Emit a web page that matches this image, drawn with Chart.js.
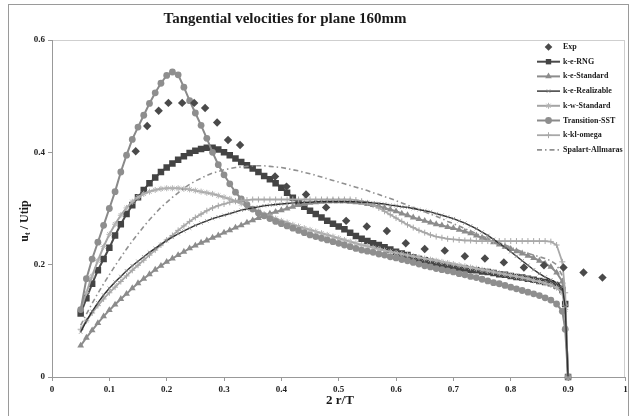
<!DOCTYPE html>
<html>
<head>
<meta charset="utf-8">
<script src="https://cdn.jsdelivr.net/npm/chart.js@4.4.0/dist/chart.umd.min.js"></script>
<style>
  html, body { margin: 0; padding: 0; background: #fff; }
  #wrap { width: 630px; height: 416px; }
</style>
</head>
<body>
<div id="wrap"><canvas id="chart" width="630" height="416"></canvas></div>
<script>
// radial positions 2r/T shared by all CFD profiles
const rPos = [
  0.05,0.06,0.07,0.08,0.09,0.10,0.11,0.12,0.13,0.14,
  0.15,0.16,0.17,0.18,0.19,0.20,0.21,0.22,0.23,0.24,
  0.25,0.26,0.27,0.28,0.29,0.30,0.31,0.32,0.33,0.34,
  0.35,0.36,0.37,0.38,0.39,0.40,0.41,0.42,0.43,0.44,
  0.45,0.46,0.47,0.48,0.49,0.50,0.51,0.52,0.53,0.54,
  0.55,0.56,0.57,0.58,0.59,0.60,0.61,0.62,0.63,0.64,
  0.65,0.66,0.67,0.68,0.69,0.70,0.71,0.72,0.73,0.74,
  0.75,0.76,0.77,0.78,0.79,0.80,0.81,0.82,0.83,0.84,
  0.85,0.86,0.87,0.88,0.89,0.895,0.90
];

// u_t / Utip for each turbulence model
const rngU = [
  0.113,0.140,0.166,0.190,0.210,0.230,0.252,0.272,0.290,0.306,
  0.320,0.333,0.345,0.355,0.365,0.373,0.380,0.387,0.393,0.399,
  0.403,0.406,0.408,0.408,0.405,0.400,0.395,0.389,0.383,0.377,
  0.371,0.365,0.358,0.352,0.345,0.337,0.328,0.319,0.311,0.303,
  0.296,0.290,0.284,0.278,0.273,0.268,0.263,0.257,0.251,0.246,
  0.242,0.238,0.235,0.231,0.227,0.223,0.220,0.217,0.213,0.210,
  0.208,0.205,0.203,0.200,0.198,0.196,0.194,0.193,0.191,0.190,
  0.188,0.187,0.185,0.183,0.182,0.180,0.178,0.177,0.175,0.173,
  0.171,0.169,0.167,0.163,0.155,0.130,0
];
const keStdU = [
  0.056,0.070,0.083,0.096,0.108,0.119,0.129,0.139,0.148,0.158,
  0.167,0.175,0.183,0.191,0.198,0.205,0.211,0.217,0.223,0.229,
  0.234,0.239,0.243,0.248,0.252,0.257,0.261,0.266,0.270,0.275,
  0.279,0.283,0.287,0.291,0.294,0.297,0.300,0.303,0.306,0.308,
  0.310,0.311,0.312,0.313,0.313,0.313,0.313,0.312,0.311,0.310,
  0.308,0.306,0.304,0.301,0.298,0.295,0.291,0.288,0.284,0.281,
  0.278,0.275,0.272,0.270,0.267,0.265,0.262,0.259,0.256,0.252,
  0.248,0.244,0.240,0.236,0.232,0.228,0.224,0.220,0.216,0.212,
  0.207,0.202,0.196,0.186,0.170,0.130,0
];
const realU = [
  0.080,0.100,0.117,0.132,0.146,0.158,0.169,0.179,0.189,0.198,
  0.206,0.214,0.222,0.229,0.236,0.243,0.249,0.255,0.260,0.265,
  0.270,0.274,0.278,0.282,0.285,0.288,0.291,0.294,0.297,0.299,
  0.301,0.303,0.305,0.306,0.307,0.308,0.309,0.310,0.310,0.311,
  0.311,0.312,0.312,0.312,0.312,0.312,0.312,0.312,0.312,0.311,
  0.311,0.310,0.309,0.308,0.306,0.305,0.303,0.302,0.300,0.298,
  0.296,0.294,0.291,0.288,0.285,0.282,0.278,0.274,0.269,0.264,
  0.258,0.252,0.245,0.238,0.231,0.223,0.215,0.207,0.199,0.191,
  0.184,0.178,0.173,0.168,0.160,0.125,0
];
const kwStdU = [
  0.120,0.150,0.180,0.207,0.232,0.254,0.272,0.288,0.301,0.312,
  0.320,0.326,0.330,0.333,0.335,0.336,0.336,0.336,0.335,0.334,
  0.332,0.330,0.328,0.326,0.323,0.320,0.317,0.313,0.309,0.304,
  0.299,0.295,0.290,0.286,0.282,0.278,0.275,0.271,0.268,0.265,
  0.262,0.259,0.256,0.253,0.250,0.247,0.244,0.241,0.238,0.235,
  0.233,0.230,0.228,0.225,0.223,0.221,0.219,0.217,0.215,0.213,
  0.211,0.209,0.207,0.205,0.203,0.201,0.199,0.197,0.195,0.193,
  0.191,0.189,0.187,0.185,0.183,0.181,0.179,0.177,0.175,0.172,
  0.170,0.167,0.164,0.159,0.150,0.120,0
];
const sstU = [
  0.120,0.175,0.210,0.240,0.270,0.300,0.330,0.365,0.395,0.423,
  0.445,0.466,0.487,0.506,0.523,0.537,0.543,0.538,0.516,0.492,
  0.470,0.448,0.425,0.400,0.378,0.360,0.344,0.329,0.317,0.307,
  0.299,0.292,0.287,0.282,0.277,0.273,0.269,0.265,0.261,0.257,
  0.253,0.250,0.247,0.244,0.241,0.238,0.235,0.232,0.229,0.226,
  0.224,0.222,0.219,0.217,0.214,0.212,0.209,0.207,0.204,0.201,
  0.198,0.196,0.193,0.191,0.189,0.187,0.184,0.182,0.179,0.177,
  0.174,0.171,0.168,0.166,0.163,0.160,0.157,0.154,0.151,0.148,
  0.145,0.141,0.137,0.130,0.117,0.085,0
];
const klOmegaU = [
  0.085,0.100,0.114,0.127,0.139,0.150,0.160,0.170,0.180,0.190,
  0.199,0.208,0.217,0.226,0.235,0.244,0.252,0.261,0.269,0.277,
  0.284,0.290,0.296,0.301,0.305,0.308,0.311,0.313,0.314,0.315,
  0.316,0.316,0.316,0.316,0.316,0.316,0.316,0.316,0.316,0.316,
  0.316,0.316,0.316,0.316,0.316,0.316,0.316,0.316,0.315,0.313,
  0.310,0.306,0.301,0.295,0.289,0.283,0.277,0.271,0.266,0.261,
  0.257,0.253,0.250,0.248,0.246,0.245,0.244,0.243,0.243,0.242,
  0.242,0.242,0.242,0.242,0.242,0.242,0.242,0.242,0.242,0.242,
  0.242,0.242,0.241,0.235,0.205,0.150,0
];
const saU = [
  0.092,0.112,0.131,0.149,0.166,0.182,0.198,0.213,0.228,0.242,
  0.255,0.268,0.280,0.291,0.302,0.311,0.320,0.328,0.336,0.343,
  0.349,0.354,0.359,0.363,0.366,0.369,0.371,0.373,0.374,0.375,
  0.376,0.376,0.376,0.375,0.374,0.373,0.371,0.369,0.367,0.364,
  0.362,0.359,0.356,0.353,0.350,0.347,0.344,0.341,0.338,0.335,
  0.332,0.328,0.325,0.321,0.318,0.314,0.310,0.306,0.302,0.298,
  0.294,0.290,0.286,0.282,0.277,0.273,0.269,0.264,0.260,0.255,
  0.251,0.247,0.243,0.239,0.235,0.231,0.227,0.223,0.220,0.217,
  0.214,0.211,0.207,0.200,0.180,0.130,0
];

// measured profile
const expR = [0.146,0.166,0.186,0.203,0.227,0.248,0.267,0.288,0.307,0.328,0.389,0.409,0.443,0.478,
  0.513,0.549,0.584,0.617,0.650,0.685,0.720,0.755,0.788,0.823,0.858,0.892,0.927,0.960];
const expU = [0.402,0.447,0.474,0.488,0.488,0.488,0.479,0.453,0.422,0.413,0.357,0.339,0.325,0.302,
  0.278,0.268,0.260,0.238,0.228,0.225,0.215,0.211,0.204,0.195,0.199,0.195,0.186,0.177];

const xTicks = [0, 0.1, 0.2, 0.3, 0.4, 0.5, 0.6, 0.7, 0.8, 0.9, 1];
const yTicks = [0, 0.2, 0.4, 0.6];

const pts = (xs, ys) => xs.map((x, i) => ({ x: x, y: ys[i] }));

const SERIF = "'Liberation Serif', 'DejaVu Serif', serif";

const datasets = [
  { label: 'Exp', data: pts(expR, expU), showLine: false, pointStyle: 'rectRot', pointRadius: 4.2,
    backgroundColor: '#4a4a4a', borderColor: '#4a4a4a', pointBorderWidth: 0, order: 0 },
  { label: 'k-e-RNG', data: pts(rPos, rngU), showLine: true, borderColor: '#4a4a4a', borderWidth: 2,
    pointStyle: 'rect', pointRadius: 4.6, backgroundColor: '#444', pointBorderColor: '#444',
    pointBorderWidth: 0, order: 7 },
  { label: 'k-e-Standard', data: pts(rPos, keStdU), showLine: true, borderColor: '#8c8c8c', borderWidth: 2,
    pointStyle: 'triangle', pointRadius: 3.9, backgroundColor: '#8c8c8c', pointBorderColor: '#8c8c8c',
    pointBorderWidth: 0, order: 6 },
  { label: 'k-e-Realizable', data: pts(rPos, realU), showLine: true, borderColor: '#2e2e2e', borderWidth: 1.4,
    pointStyle: 'crossRot', pointRadius: 2.4, backgroundColor: '#8a8a8a', pointBorderColor: '#8a8a8a',
    pointBorderWidth: 0.8, order: 1 },
  { label: 'k-w-Standard', data: pts(rPos, kwStdU), showLine: true, borderColor: '#a4a4a4', borderWidth: 2,
    pointStyle: 'star', pointRadius: 3, backgroundColor: '#b4b4b4', pointBorderColor: '#b4b4b4',
    pointBorderWidth: 1, order: 4 },
  { label: 'Transition-SST', data: pts(rPos, sstU), showLine: true, borderColor: '#8a8a8a', borderWidth: 2,
    pointStyle: 'circle', pointRadius: 3.4, backgroundColor: '#8e8e8e', pointBorderColor: '#8e8e8e',
    pointBorderWidth: 0, order: 3 },
  { label: 'k-kl-omega', data: pts(rPos, klOmegaU), showLine: true, borderColor: '#a8a8a8', borderWidth: 1.8,
    pointStyle: 'cross', pointRadius: 3, backgroundColor: '#a8a8a8', pointBorderColor: '#a8a8a8',
    pointBorderWidth: 1, order: 2 },
  { label: 'Spalart-Allmaras', data: pts(rPos, saU), showLine: true, borderColor: '#909090', borderWidth: 1.6,
    borderDash: [5, 3, 1.5, 3], pointRadius: 0, order: 2 }
];
datasets.forEach(d => { d.clip = 8; d.tension = 0; d.pointHoverRadius = d.pointRadius; });

// small marker painter for the hand-drawn key
function marker(ctx, style, x, y, r, fill, stroke, lw) {
  ctx.save();
  ctx.fillStyle = fill; ctx.strokeStyle = stroke; ctx.lineWidth = lw || 1;
  ctx.beginPath();
  if (style === 'rectRot') {
    ctx.moveTo(x, y - r); ctx.lineTo(x + r, y); ctx.lineTo(x, y + r); ctx.lineTo(x - r, y); ctx.closePath(); ctx.fill();
  } else if (style === 'rect') {
    const s = r * Math.SQRT1_2; ctx.rect(x - s, y - s, 2 * s, 2 * s); ctx.fill();
  } else if (style === 'triangle') {
    ctx.moveTo(x, y - r); ctx.lineTo(x + r * 0.866, y + r / 2); ctx.lineTo(x - r * 0.866, y + r / 2); ctx.closePath(); ctx.fill();
  } else if (style === 'circle') {
    ctx.arc(x, y, r, 0, Math.PI * 2); ctx.fill();
  } else if (style === 'cross') {
    ctx.moveTo(x - r, y); ctx.lineTo(x + r, y); ctx.moveTo(x, y - r); ctx.lineTo(x, y + r); ctx.stroke();
  } else if (style === 'crossRot') {
    const s = r * 0.707;
    ctx.moveTo(x - s, y - s); ctx.lineTo(x + s, y + s); ctx.moveTo(x - s, y + s); ctx.lineTo(x + s, y - s); ctx.stroke();
  } else if (style === 'star') {
    const s = r * 0.707;
    ctx.moveTo(x - r, y); ctx.lineTo(x + r, y); ctx.moveTo(x, y - r); ctx.lineTo(x, y + r);
    ctx.moveTo(x - s, y - s); ctx.lineTo(x + s, y + s); ctx.moveTo(x - s, y + s); ctx.lineTo(x + s, y - s); ctx.stroke();
  }
  ctx.restore();
}

const decor = {
  id: 'decor',
  beforeDraw(chart) {
    const { ctx, chartArea: a } = chart;
    ctx.save();
    ctx.fillStyle = '#fff';
    ctx.fillRect(0, 0, chart.width, chart.height);
    ctx.strokeStyle = '#9a9a9a';
    ctx.lineWidth = 1;
    ctx.strokeRect(8.5, 4.5, 620, 430);
    ctx.strokeStyle = '#cfcfcf';
    ctx.strokeRect(Math.round(a.left) + 0.5, Math.round(a.top) + 0.5, Math.round(a.right - a.left) - 1, Math.round(a.bottom - a.top));
    ctx.restore();
  },
  afterDraw(chart) {
    const ctx = chart.ctx;
    ctx.save();
    ctx.fillStyle = '#1a1a1a';
    ctx.textAlign = 'center';
    ctx.textBaseline = 'middle';

    // title
    ctx.font = 'bold 15px ' + SERIF;
    ctx.fillText('Tangential velocities for plane 160mm', 285, 19);

    // x axis title
    ctx.font = 'bold 13px ' + SERIF;
    ctx.fillText('2 r/T', 340, 401);

    // y axis title with subscript t
    ctx.translate(25, 221);
    ctx.rotate(-Math.PI / 2);
    ctx.textAlign = 'left';
    ctx.font = 'bold 12px ' + SERIF;
    const wU = ctx.measureText('u').width;
    const rest = ' / Utip';
    const wRest = ctx.measureText(rest).width;
    ctx.font = 'bold 8px ' + SERIF;
    const wT = ctx.measureText('t').width;
    let x0 = -(wU + wT + wRest) / 2;
    ctx.font = 'bold 12px ' + SERIF;
    ctx.fillText('u', x0, 0);
    ctx.font = 'bold 8px ' + SERIF;
    ctx.fillText('t', x0 + wU, 3);
    ctx.font = 'bold 12px ' + SERIF;
    ctx.fillText(rest, x0 + wU + wT, 0);
    ctx.restore();

    // key
    ctx.save();
    ctx.font = 'bold 8px ' + SERIF;
    ctx.textBaseline = 'middle';
    ctx.fillStyle = '#1a1a1a';
    chart.data.datasets.forEach((d, i) => {
      const y = 47 + i * 14.7;
      if (d.showLine) {
        ctx.save();
        ctx.strokeStyle = d.borderColor;
        ctx.lineWidth = d.borderWidth;
        ctx.setLineDash(d.borderDash || []);
        ctx.beginPath();
        ctx.moveTo(537, y);
        ctx.lineTo(560, y);
        ctx.stroke();
        ctx.restore();
      }
      if (d.pointRadius > 0) {
        marker(ctx, d.pointStyle, 548.5, y, Math.min(d.pointRadius, 3.8), d.backgroundColor, d.pointBorderColor || d.borderColor, d.pointBorderWidth);
      }
      ctx.fillText(d.label, 563, y);
    });
    ctx.restore();
  }
};

const tickFont = { family: SERIF, size: 9, weight: 'bold' };

new Chart(document.getElementById('chart'), {
  type: 'scatter',
  data: { datasets: datasets },
  options: {
    responsive: false,
    devicePixelRatio: 1,
    animation: false,
    events: [],
    layout: { padding: { left: 0, top: 40, right: 2, bottom: 0 } },
    plugins: { legend: { display: false }, tooltip: { enabled: false }, title: { display: false } },
    scales: {
      x: {
        type: 'linear', min: xTicks[0], max: xTicks[xTicks.length - 1],
        afterBuildTicks: s => { s.ticks = xTicks.map(v => ({ value: v })); },
        ticks: { font: tickFont, color: '#222', padding: 3, maxRotation: 0, autoSkip: false,
          callback: v => String(Math.round(v * 10) / 10) },
        grid: { drawOnChartArea: false, drawTicks: true, tickLength: 4, color: '#999' },
        border: { display: true, color: '#999' },
        afterFit: s => { s.height = 39; s.paddingLeft = 0; s.paddingRight = 0; }
      },
      y: {
        type: 'linear', min: yTicks[0], max: yTicks[yTicks.length - 1],
        afterBuildTicks: s => { s.ticks = yTicks.map(v => ({ value: v })); },
        ticks: { font: tickFont, color: '#222', padding: 3,
          callback: v => String(Math.round(v * 10) / 10) },
        grid: { drawOnChartArea: false, drawTicks: true, tickLength: 4, color: '#999' },
        border: { display: true, color: '#999' },
        afterFit: s => { s.width = 52; s.paddingTop = 0; s.paddingBottom = 0; }
      }
    }
  },
  plugins: [decor]
});
</script>
</body>
</html>
